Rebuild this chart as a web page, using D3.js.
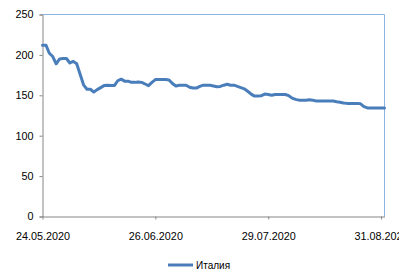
<!DOCTYPE html>
<html>
<head>
<meta charset="utf-8">
<script src="https://cdn.jsdelivr.net/npm/d3@7"></script>
<style>
  html, body { margin: 0; padding: 0; background: #fff; }
  svg { display: block; }
  text { font-family: "Liberation Sans", Arial, sans-serif; fill: #000; }
</style>
</head>
<body>
<svg id="chart" width="399" height="272"></svg>
<script>
const seriesName = 'Италия'
const startDate = '24.05.2020'
const endDate = '01.09.2020'
// one value per day
const values = [
  212, 212, 202, 198, 189, 195, 195.5, 195.5, 190, 192,
  189, 176, 163, 157.5, 157.5, 154, 157, 159.5, 162, 162.5,
  162, 162, 168, 170, 167.5, 167.5, 166, 166, 166.5, 166,
  164, 162, 166, 169.5, 169.5, 169.5, 169.5, 169, 164.5, 161.5,
  162.5, 162.5, 162.5, 160, 159, 159, 161, 162.5, 162.5, 162.5,
  161.5, 160.5, 161, 162.5, 163.7, 162.5, 162.5, 161, 159.5, 158,
  155, 151.5, 149, 149, 149.5, 151.5, 151, 150, 151, 151,
  151, 151, 149.5, 146.5, 145, 144, 144, 144, 144.5, 144,
  143, 143, 143, 143, 143, 143, 142, 141.5, 140.5, 140,
  140, 140, 140, 139.5, 136, 134.4, 134.4, 134.4, 134.4, 134.4,
  134.4
]
const yTicks = [0, 50, 100, 150, 200, 250]
const xTickLabels = ['24.05.2020', '26.06.2020', '29.07.2020', '31.08.2020']

const parse = d3.timeParse('%d.%m.%Y')
const fmt = d3.timeFormat('%d.%m.%Y')
const t0 = parse(startDate)
const data = values.map((v, i) => ({ date: d3.timeDay.offset(t0, i), value: v }))

const margin = { top: 14.5, right: 14.5, bottom: 55.5, left: 42.5 }
const width = 399, height = 272
const plotW = width - margin.left - margin.right
const plotH = height - margin.top - margin.bottom

const svg = d3.select('#chart')
const g = svg.append('g').attr('transform', `translate(${margin.left},${margin.top})`)

const x = d3.scaleTime().domain([t0, parse(endDate)]).range([0, plotW])
const y = d3.scaleLinear().domain([0, 250]).range([plotH, 0])

// plot area border (top / right)
g.append('path')
  .attr('d', `M0,0 H${plotW} V${plotH}`)
  .attr('fill', 'none')
  .attr('stroke', '#8db3e2')
  .attr('stroke-width', 1)

// y axis
const yAxis = g.append('g')
  .call(d3.axisLeft(y).tickValues(yTicks).tickSize(3).tickPadding(6))
yAxis.select('.domain').attr('stroke', '#868686')
yAxis.selectAll('.tick line').attr('stroke', '#868686')
yAxis.selectAll('.tick text')
  .style('font-size', '10.8px')
  .style('font-family', '"Liberation Sans", Arial, sans-serif')
  .attr('fill', '#000')

// x axis
const xAxis = g.append('g')
  .attr('transform', `translate(0,${plotH})`)
  .call(d3.axisBottom(x)
    .tickValues(xTickLabels.map(parse))
    .tickFormat(fmt)
    .tickSize(3)
    .tickSizeOuter(0)
    .tickPadding(13))
xAxis.select('.domain').attr('stroke', '#868686')
xAxis.selectAll('.tick line').attr('stroke', '#868686')
xAxis.selectAll('.tick text')
  .style('font-size', '10.8px')
  .style('font-family', '"Liberation Sans", Arial, sans-serif')
  .attr('fill', '#000')

// series line
const line = d3.line()
  .x(d => x(d.date))
  .y(d => y(d.value))

g.append('path')
  .datum(data)
  .attr('fill', 'none')
  .attr('stroke', '#4a7ebb')
  .attr('stroke-width', 3)
  .attr('stroke-linejoin', 'round')
  .attr('stroke-linecap', 'round')
  .attr('d', line)

// legend
const legend = svg.append('g').attr('transform', 'translate(168,265)')
legend.append('line')
  .attr('x1', 0).attr('x2', 25)
  .attr('y1', 0).attr('y2', 0)
  .attr('stroke', '#4a7ebb')
  .attr('stroke-width', 3)
legend.append('text')
  .attr('x', 28)
  .attr('y', 3.5)
  .style('font-size', '10px')
  .text(seriesName)
</script>
</body>
</html>
